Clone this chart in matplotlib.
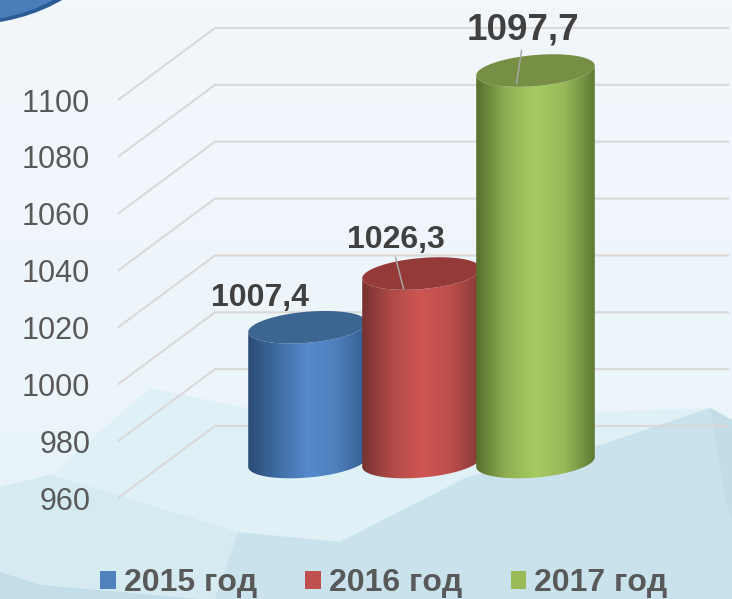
#!/usr/bin/env python3
import numpy as np
import matplotlib
matplotlib.use("Agg")
import matplotlib.pyplot as plt
from matplotlib.colors import LinearSegmentedColormap
from matplotlib.patches import Patch, PathPatch, Polygon, Ellipse
from matplotlib.path import Path

plt.rcParams["font.family"] = ["Liberation Sans", "DejaVu Sans"]
plt.rcParams["text.kerning_factor"] = 6

# === DATA ===
years = ["2015 год", "2016 год", "2017 год"]
values = [1007.4, 1026.3, 1097.7]
value_labels = ["1007,4", "1026,3", "1097,7"]
yticks = [960, 980, 1000, 1020, 1040, 1060, 1080, 1100]

# === STYLE ===
W, H = 732, 599
PX_PER_UNIT = (498 - 100) / 140.0
Y_960_PX = 498
DEPTH_X, DEPTH_Y = 97, 72
LEFT = 118
BAR_X0, BAR_STEP = 307.5, 114
BAR_W, BAR_H, TILT = 119, 31, np.radians(5)
GRID = "#DAD9D8"

legend_cols = ["#4F81BD", "#C0504D", "#9BBB59"]
top_cols = ["#3D6592", "#943B39", "#778F44"]
body_cols = [
    ["#2B4C74", "#3F6CA3", "#568ACC", "#4E80BD", "#355C8C"],
    ["#773230", "#B04A47", "#CF5653", "#BD4F4C", "#863836"],
    ["#566F2E", "#8FAF52", "#A7CC63", "#98B859", "#5F7A33"],
]
# text label offset (px) from top centre, and leader ends
label_off = [(-48, -29), (-26, -34), (-13, -41)]
leader = [None, ((-26, -16), (-18, 15)), ((-14, -20), (-19, 13))]

fig = plt.figure(figsize=(W / 100, H / 100), dpi=100)

# --- background, in pixels ---
bg = fig.add_axes([0, 0, 1, 1])
bg.set_xlim(0, W)
bg.set_ylim(H, 0)
bg.axis("off")
cm = LinearSegmentedColormap.from_list("bg", ["#F2F7FB", "#F0F6FB", "#EBF5FA", "#E4F2F8"])
bg.imshow(np.linspace(0, 1, 64).reshape(-1, 1), cmap=cm, extent=[0, W, H, 0], aspect="auto", zorder=0)
shapes = [
    ([(150, 388), (245, 408), (470, 405), (600, 412), (710, 408), (732, 420), (732, 599), (0, 599), (0, 487), (51, 475)], "#DFF0F6"),
    ([(0, 487), (51, 475), (238, 532), (215, 599), (0, 599)], "#D5EAF1"),
    ([(238, 532), (340, 542), (467, 477), (600, 445), (710, 408), (732, 420), (732, 599), (215, 599)], "#C9E2EB"),
    ([(710, 408), (732, 420), (732, 520), (725, 500)], "#C3DDE8"),
    ([(0, 572), (40, 585), (200, 599), (0, 599)], "#C3DEE8"),
]
for pts, col in shapes:
    bg.add_patch(Polygon(pts, closed=True, fc=col, ec="none", zorder=1))
bg.add_patch(Ellipse((-40, -70), 300, 191, fc="#2C5C95", ec="none", zorder=2))
bg.add_patch(Ellipse((-40, -70), 288, 184, fc="#4A7EBB", ec="none", zorder=3))

# --- chart axes: x in pixels, y in values ---
ax = fig.add_axes([LEFT / W, 0, (W - LEFT) / W, 1])
ax.patch.set_alpha(0)
ax.set_xlim(LEFT, W)
ax.set_ylim(960 - (H - Y_960_PX) / PX_PER_UNIT, 960 + Y_960_PX / PX_PER_UNIT)
for s in ax.spines.values():
    s.set_visible(False)
ax.set_xticks([])
ax.set_yticks(yticks)
ax.tick_params(axis="y", length=0, pad=20, labelsize=22, labelcolor="#595959")

dv = DEPTH_Y / PX_PER_UNIT
for t in yticks:
    ax.plot([LEFT, LEFT + DEPTH_X, 728], [t, t + dv, t + dv], color=GRID, lw=1.5,
            solid_joinstyle="miter", zorder=1)


def ellipse_xy(cx, cv, t):
    # tilted ellipse, worked out in pixels then put back into values
    a, b = BAR_W / 2, BAR_H / 2
    dx = a * np.cos(t) * np.cos(TILT) - b * np.sin(t) * np.sin(TILT)
    dy = a * np.cos(t) * np.sin(TILT) + b * np.sin(t) * np.cos(TILT)
    return cx + dx, cv + dy / PX_PER_UNIT


for i, v in enumerate(values):
    cx = BAR_X0 + i * BAR_STEP
    top_v = v + dv / 2
    base_v = 960 + dv / 2
    z = 3 + i

    # body outline: upper half of top ellipse, lower half of base ellipse
    tt = np.linspace(np.pi, 2 * np.pi, 60)
    tx, tv = ellipse_xy(cx, top_v, tt)
    bt = np.linspace(0, -np.pi, 60)
    bx, bv = ellipse_xy(cx, base_v, bt)
    verts = np.column_stack([np.r_[tx, bx], np.r_[tv, bv]])
    clip = PathPatch(Path(np.vstack([verts, verts[0]])), transform=ax.transData, fc="none", ec="none")
    ax.add_patch(clip)

    grad = LinearSegmentedColormap.from_list(f"b{i}", body_cols[i])
    im = ax.imshow(np.linspace(0, 1, 128).reshape(1, -1), cmap=grad, aspect="auto",
                   extent=[cx - BAR_W / 2, cx + BAR_W / 2, base_v - 20, top_v + 20], zorder=z)
    im.set_clip_path(clip)

    ex, ev = ellipse_xy(cx, top_v, np.linspace(0, 2 * np.pi, 120))
    ax.fill(ex, ev, color=top_cols[i], lw=0, zorder=z + 0.1)

    ox, oy = label_off[i]
    ax.annotate(value_labels[i], (cx, top_v), xytext=(ox * 0.72, -oy * 0.72), textcoords="offset points",
                ha="center", va="center", fontsize=26.5 if i == 2 else 23, fontweight="bold",
                color="#404040", zorder=10)
    if leader[i]:
        (x0, y0), (x1, y1) = leader[i]
        ax.plot([cx + x0, cx + x1], [top_v - y0 / PX_PER_UNIT, top_v - y1 / PX_PER_UNIT],
                color="#A6A6A6", lw=1.1, zorder=9)

ax.set_xlim(LEFT, W)
ax.set_ylim(960 - (H - Y_960_PX) / PX_PER_UNIT, 960 + Y_960_PX / PX_PER_UNIT)

handles = [Patch(fc=c, ec="none", label=y) for c, y in zip(legend_cols, years)]
leg = fig.legend(handles=handles, ncol=3, loc="center", bbox_to_anchor=(384 / W, 1 - 583 / H),
                 frameon=False, handlelength=0.5, handleheight=0.5,
                 handletextpad=0.25, columnspacing=1.5, borderpad=0, borderaxespad=0,
                 labelcolor="#595959", prop={"weight": "bold", "size": 23})

fig.savefig("out.png", dpi=100)
